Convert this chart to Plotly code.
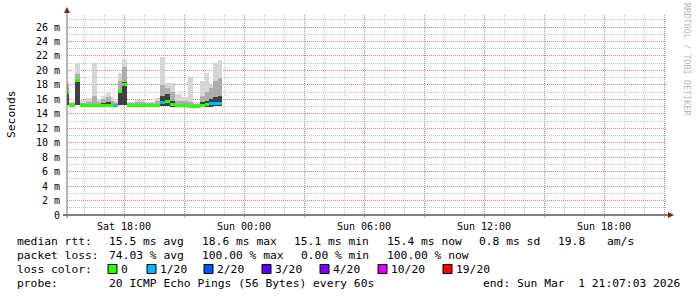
import plotly.graph_objects as go
import pandas as pd

# ---------------- data ----------------
day = "2026-02-28 "
bin_edges = ["15:09", "15:15", "15:33", "15:48", "16:06", "16:24", "16:39", "16:51",
             "17:06", "17:21", "17:30", "17:42", "17:54", "18:09", "18:33", "19:03",
             "19:33", "19:48", "20:03", "20:18", "20:33", "20:54", "21:12", "21:27",
             "21:48", "22:03", "22:15", "22:27", "22:42", "22:54"]
median = [17.0, 15.2, 18.6, 15.2, 15.2, 15.2, 15.2, 15.2, 15.2, 15.2, 15.2, 17.1, 18.1, 15.2, 15.2,
          15.2, 15.2, 15.5, 15.7, 15.3, 15.1, 15.2, 15.0, 15.0, 15.2, 15.3, 15.4, 15.4, 15.4]
smoke_min = [15.2, 15.0, 15.2, 15.0, 15.0, 15.0, 15.0, 15.0, 15.0, 15.0, 15.0, 15.2, 15.2, 15.0, 15.0,
             15.0, 15.0, 15.1, 15.1, 15.0, 15.0, 15.0, 14.9, 14.9, 15.0, 15.0, 15.0, 15.1, 15.1]
smoke_q3 = [17.2, 15.4, 18.7, 15.3, 15.3, 15.4, 15.3, 15.5, 15.6, 15.3, 15.3, 17.3, 18.4, 15.3, 15.4,
            15.3, 15.4, 16.5, 16.8, 15.8, 15.3, 15.4, 15.2, 15.2, 15.6, 15.8, 16.0, 16.3, 16.5]
smoke_p90 = [18.0, 15.5, 19.5, 15.5, 15.6, 16.5, 15.6, 16.0, 16.3, 15.8, 15.5, 18.5, 20.5, 15.5, 15.6,
             15.5, 15.8, 18.0, 17.5, 17.0, 15.8, 15.8, 15.6, 15.4, 16.4, 17.0, 17.5, 18.5, 19.0]
smoke_max = [18.4, 15.6, 21.0, 15.9, 16.2, 21.0, 16.0, 16.5, 16.9, 16.3, 15.7, 19.7, 21.6, 15.6, 15.9,
             15.6, 16.2, 21.9, 18.3, 18.2, 16.8, 16.3, 19.1, 15.6, 18.6, 19.7, 18.0, 21.0, 21.4]
loss_idx = [0, 0, 0, 0, 0, 0, 0, 0, 0, 0, 1, 0, 0, 0, 0, 0, 0, 1, 0, 0, 0, 0, 0, 0, 0, 0, 1, 1, 1]

loss_labels = ["0", "1/20", "2/20", "3/20", "4/20", "10/20", "19/20"]
loss_colors = ["#26ff00", "#00b8ff", "#0059ff", "#5e00ff", "#7e00ff", "#dd00ff", "#ff0000"]
loss_legend_x = [108, 147, 204, 262, 320, 378, 443]

y_ticks = list(range(0, 27, 2))
y_ticktext = ["0"] + [f"{v} m" for v in y_ticks[1:]]

x_major = pd.date_range("2026-02-28 18:00", "2026-03-01 21:00", freq="3h")
x_ticktext = [t.strftime("%a %H:%M") if t.hour % 6 == 0 else "" for t in x_major]

stats_rows = [
    [(16, "median rtt:"), (108, "15.5 ms avg"), (201, "18.6 ms max"), (293, "15.1 ms min"),
     (386, "15.4 ms now"), (478, "0.8 ms sd"), (557, "19.8"), (606, "am/s")],
    [(16, "packet loss:"), (108, "74.03 % avg"), (201, "100.00 % max"), (300, "0.00 % min"),
     (386, "100.00 % now")],
    [(16, "loss color:")],
    [(16, "probe:"), (108, "20 ICMP Echo Pings (56 Bytes) every 60s")],
]
row_y = [241.5, 255.5, 269.0, 283.5]
end_text = "end: Sun Mar  1 21:07:03 2026"

# ---------------- geometry helpers ----------------
W, H = 697, 297
L, R, T, B = 67, 30, 15, 82
PW, PH = W - L - R, H - T - B


def px(x):
    return (x - L) / PW


def py(y):
    return (H - B - y) / PH


starts = [pd.Timestamp(day + e) for e in bin_edges[:-1]]
ends = [pd.Timestamp(day + e) for e in bin_edges[1:]]
centers = [s + (e - s) / 2 for s, e in zip(starts, ends)]
widths = [(e - s).total_seconds() * 1000 for s, e in zip(starts, ends)]

fig = go.Figure()


def band(lo, hi, color):
    fig.add_trace(go.Bar(x=centers, y=[h - l for l, h in zip(lo, hi)], base=lo, width=widths,
                         marker=dict(color=color, line=dict(width=0)), showlegend=False,
                         hoverinfo="skip"))


band(smoke_min, smoke_max, "#d6d6d6")
band(smoke_min, smoke_p90, "#adadad")
band(smoke_min, smoke_q3, "#404040")

mh = 0.4
fig.add_trace(go.Bar(x=centers, y=[mh] * len(median), base=[m - mh / 2 for m in median], width=widths,
                     marker=dict(color=[loss_colors[i] for i in loss_idx], line=dict(width=0)),
                     showlegend=False, hoverinfo="skip"))

mono = "DejaVu Sans Mono"
major_grid = "rgba(215,90,90,0.55)"
minor_grid = "rgba(150,150,150,0.55)"

fig.update_layout(
    width=W, height=H, autosize=False,
    margin=dict(l=L, r=R, t=T, b=B, pad=0),
    paper_bgcolor="white", plot_bgcolor="white",
    barmode="overlay", bargap=0,
    font=dict(family=mono, size=10, color="black"),
    xaxis=dict(type="date", range=["2026-02-28 15:09", "2026-03-01 21:09"],
               tickvals=list(x_major), ticktext=x_ticktext,
               showgrid=True, gridcolor=major_grid, griddash="1px,1px", gridwidth=1,
               ticks="outside", ticklen=2, tickcolor=major_grid,
               minor=dict(dtick=3600000, tick0="2026-02-28 00:00", showgrid=True,
                          gridcolor=minor_grid, griddash="1px,1px", ticks=""),
               showline=False, zeroline=False, fixedrange=True,
               tickfont=dict(family=mono, size=10, color="black")),
    yaxis=dict(range=[0, PH / 7.23], tickvals=y_ticks, ticktext=y_ticktext,
               showgrid=True, gridcolor=major_grid, griddash="1px,1px", gridwidth=1,
               minor=dict(dtick=1, showgrid=True, gridcolor=minor_grid, griddash="1px,1px"),
               showline=False, zeroline=False, ticks="", ticklabelstandoff=6,
               tickfont=dict(family=mono, size=10, color="black")),
)

shapes = []
# x axis line
shapes.append(dict(type="line", xref="paper", yref="paper", x0=px(63), x1=px(669), y0=py(215), y1=py(215),
                   line=dict(color="black", width=1)))
# y axis line
shapes.append(dict(type="line", xref="paper", yref="paper", x0=px(67), x1=px(67), y0=py(218), y1=py(12),
                   line=dict(color="#707070", width=1)))
arrow_col = "#8b1a1a"
shapes.append(dict(type="path", xref="paper", yref="paper",
                   path=f"M {px(668)} {py(212)} L {px(674)} {py(215)} L {px(668)} {py(218)} Z",
                   fillcolor=arrow_col, line=dict(color=arrow_col, width=0)))
shapes.append(dict(type="path", xref="paper", yref="paper",
                   path=f"M {px(64)} {py(13)} L {px(67)} {py(7)} L {px(70)} {py(13)} Z",
                   fillcolor=arrow_col, line=dict(color=arrow_col, width=0)))
# loss colour squares
for xc, col in zip(loss_legend_x, loss_colors):
    shapes.append(dict(type="rect", xref="paper", yref="paper", x0=px(xc), x1=px(xc + 9),
                       y0=py(273.5), y1=py(264.5), fillcolor=col, line=dict(color="black", width=1)))
fig.update_layout(shapes=shapes)

ann = []
for row, yy in zip(stats_rows, row_y):
    for xx, txt in row:
        ann.append(dict(x=px(xx), y=py(yy), xref="paper", yref="paper", text=txt, showarrow=False,
                        xanchor="left", yanchor="middle", borderpad=0,
                        font=dict(family=mono, size=11.3, color="black")))
for xc, lab in zip(loss_legend_x, loss_labels):
    ann.append(dict(x=px(xc + 12), y=py(row_y[2]), xref="paper", yref="paper", text=lab, showarrow=False,
                    xanchor="left", yanchor="middle", borderpad=0,
                    font=dict(family=mono, size=11.3, color="black")))
ann.append(dict(x=px(681), y=py(row_y[3]), xref="paper", yref="paper", text=end_text, showarrow=False,
                xanchor="right", yanchor="middle", borderpad=0,
                font=dict(family=mono, size=11.3, color="black")))
ann.append(dict(x=px(11), y=py(114), xref="paper", yref="paper", text="Seconds", showarrow=False,
                textangle=-90, xanchor="center", yanchor="middle", borderpad=0,
                font=dict(family=mono, size=11.3, color="black")))
ann.append(dict(x=px(687), y=py(59), xref="paper", yref="paper", text="RRDTOOL / TOBI OETIKER",
                showarrow=False, textangle=90, xanchor="center", yanchor="middle", borderpad=0,
                font=dict(family=mono, size=8.5, color="#b8b8b8")))
fig.update_layout(annotations=ann)

fig.write_html("out.html")
